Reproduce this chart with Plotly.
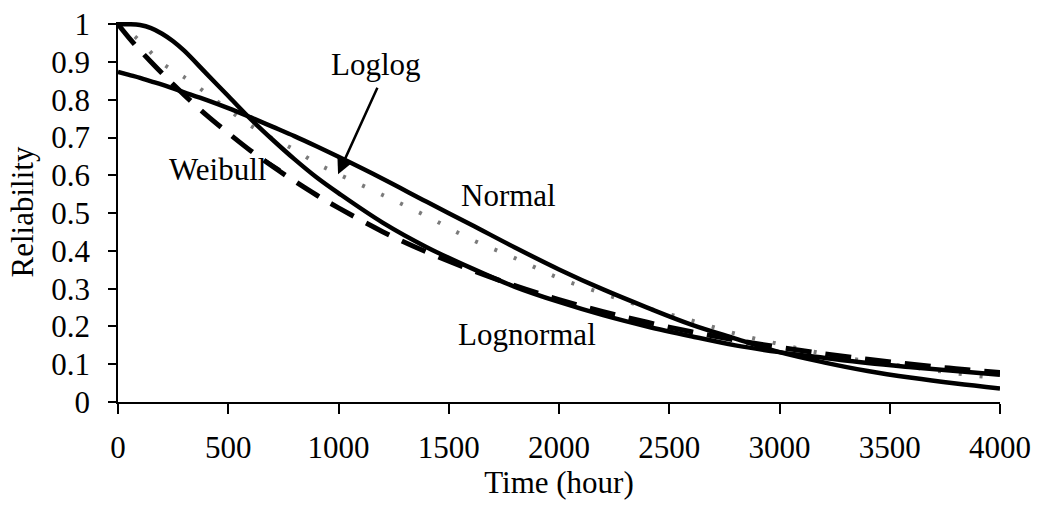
import plotly.graph_objects as go

# Time grid (hours) shared by all reliability curves
time_h = [0, 50, 100, 150, 200, 250, 300, 400, 500, 600, 700, 800, 900, 1000,
          1200, 1400, 1600, 1800, 2000, 2200, 2400, 2600, 2800, 3000, 3200,
          3400, 3600, 3800, 4000]

rel_normal = [0.874, 0.866, 0.858, 0.849, 0.840, 0.830, 0.820, 0.800, 0.778,
              0.754, 0.729, 0.704, 0.677, 0.649, 0.591, 0.530, 0.470, 0.409,
              0.351, 0.298, 0.250, 0.205, 0.168, 0.132, 0.105, 0.082, 0.064,
              0.049, 0.036]

rel_lognormal = [1.000, 1.000, 0.998, 0.990, 0.975, 0.955, 0.930, 0.870, 0.810,
                 0.750, 0.695, 0.643, 0.595, 0.553, 0.475, 0.410, 0.355, 0.305,
                 0.265, 0.230, 0.200, 0.174, 0.150, 0.132, 0.117, 0.103, 0.092,
                 0.082, 0.072]

rel_weibull = [1.000, 0.964, 0.931, 0.900, 0.870, 0.841, 0.813, 0.760, 0.712,
               0.666, 0.624, 0.585, 0.548, 0.514, 0.451, 0.397, 0.350, 0.308,
               0.271, 0.239, 0.211, 0.186, 0.164, 0.145, 0.128, 0.113, 0.100,
               0.088, 0.078]

rel_loglog = [1.000, 0.980, 0.955, 0.925, 0.897, 0.878, 0.860, 0.818, 0.774,
              0.732, 0.698, 0.668, 0.632, 0.603, 0.548, 0.492, 0.431, 0.381,
              0.328, 0.287, 0.249, 0.216, 0.181, 0.153, 0.128, 0.108, 0.092,
              0.076, 0.062]

x_ticks = [0, 500, 1000, 1500, 2000, 2500, 3000, 3500, 4000]
y_ticks = [0, 0.1, 0.2, 0.3, 0.4, 0.5, 0.6, 0.7, 0.8, 0.9, 1]
y_tick_text = ["0", "0.1", "0.2", "0.3", "0.4", "0.5", "0.6", "0.7", "0.8", "0.9", "1"]

FONT = "Liberation Serif, Times New Roman, serif"
FS = 31

fig = go.Figure()
fig.add_trace(go.Scatter(x=time_h, y=rel_loglog, mode="lines", name="Loglog",
                         line=dict(color="#7a7a7a", width=4, dash="3px,18px",
                                   shape="spline")))
fig.add_trace(go.Scatter(x=time_h, y=rel_weibull, mode="lines", name="Weibull",
                         line=dict(color="black", width=5, dash="26px,14px",
                                   shape="spline")))
fig.add_trace(go.Scatter(x=time_h, y=rel_normal, mode="lines", name="Normal",
                         line=dict(color="black", width=4.5, shape="spline")))
fig.add_trace(go.Scatter(x=time_h, y=rel_lognormal, mode="lines", name="Lognormal",
                         line=dict(color="black", width=4.5, shape="spline")))

label_font = dict(family=FONT, size=FS, color="black")
annotations = [
    dict(x=1770, y=0.547, text="Normal", showarrow=False, font=label_font),
    dict(x=1855, y=0.18, text="Lognormal", showarrow=False, font=label_font),
    dict(x=1170, y=0.894, text="Loglog", showarrow=False, font=label_font),
    dict(x=450, y=0.615, text="Weibull", showarrow=False, font=label_font),
    # arrow from the Loglog label down to its curve
    dict(x=998, y=0.603, ax=40, ay=-88, text="", showarrow=True,
         arrowhead=2, arrowsize=1.3, arrowwidth=2.5, arrowcolor="black"),
    # short pointer from the Weibull label to its curve
    dict(x=735, y=0.615, ax=-17, ay=-11, text="", showarrow=True,
         arrowhead=0, arrowwidth=3, arrowcolor="black"),
]

fig.update_layout(
    width=1037, height=517,
    margin=dict(l=118, r=37, t=22, b=115, autoexpand=False),
    paper_bgcolor="white", plot_bgcolor="white",
    showlegend=False,
    font=dict(family=FONT, size=FS, color="black"),
    annotations=annotations,
    xaxis=dict(range=[0, 4000], tickvals=x_ticks, showgrid=False, zeroline=False,
               showline=True, linecolor="black", linewidth=1.5,
               ticks="outside", ticklen=10, tickwidth=1.5, tickcolor="black",
               ticklabelstandoff=7, automargin=False,
               title=dict(text="Time (hour)", font=dict(family=FONT, size=FS),
                          standoff=6)),
    yaxis=dict(range=[0, 1.006], tickvals=y_ticks, ticktext=y_tick_text,
               showgrid=False, zeroline=False,
               showline=True, linecolor="black", linewidth=1.5,
               ticks="outside", ticklen=8, tickwidth=1.5, tickcolor="black",
               ticklabelstandoff=12, automargin=False,
               title=dict(text="Reliability", font=dict(family=FONT, size=FS),
                          standoff=8)),
)

fig.write_html("out.html")
